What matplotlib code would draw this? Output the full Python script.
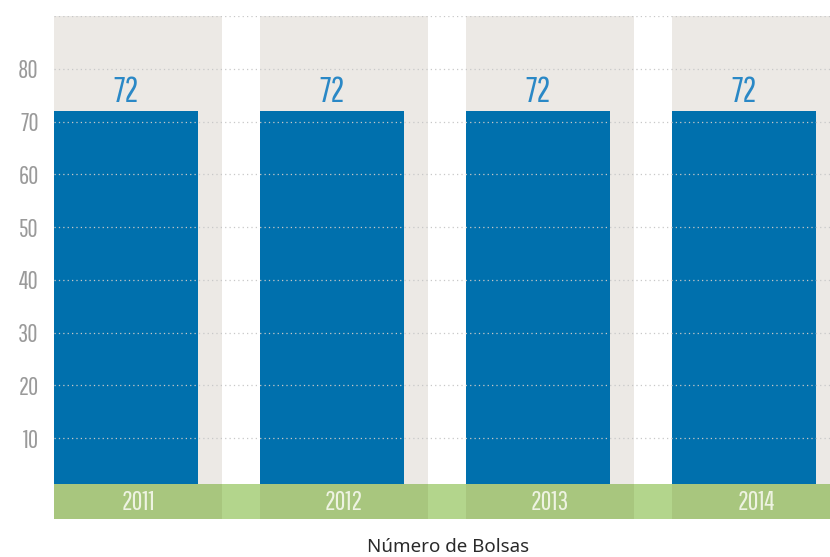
import matplotlib
matplotlib.use("Agg")
import matplotlib.pyplot as plt

# ---------------- DATI ----------------
anni = ["2011", "2012", "2013", "2014"]
bolsas = [72, 72, 72, 72]
yticks = [10, 20, 30, 40, 50, 60, 70, 80]
titolo = "Número de Bolsas"

cond = ["Pathway Gothic One", "DejaVu Sans"]

blu = "#0070ad"
grigio = "#ece9e5"
verde = "#a8c67e"
verde_chiaro = "#b3d58c"

fig = plt.figure(figsize=(8.3, 5.57), dpi=100)
ax = fig.add_axes([54 / 830, 38 / 557, 776 / 830, 503 / 557])

y_min, y_max = -5.3, 90
bar_w = 0.70
pan_w = 0.816
x = list(range(len(anni)))

# pannelli grigi e barre
for i in x:
    ax.axvspan(i - bar_w / 2, i - bar_w / 2 + pan_w, color=grigio, zorder=0, lw=0)
ax.bar(x, bolsas, width=bar_w, color=blu, zorder=2)

# griglia tratteggiata
for v in yticks + [90]:
    ax.axhline(v, color="#c8c8c8", lw=0.9, ls=(0, (1, 2.5)), zorder=3)

# fascia verde in basso
ax.axhspan(y_min, 1.3, color=verde_chiaro, zorder=4, lw=0)
for i in x:
    sx = i - bar_w / 2
    ax.fill_between([sx, sx + pan_w], y_min, 1.3, color=verde, zorder=5, lw=0)
    ax.text(sx + pan_w / 2, (y_min + 1.3) / 2 - 0.2, anni[i], ha="center", va="center",
            fontsize=19, color="#eef3e2", family=cond, zorder=6)

# etichette valori
for i, v in zip(x, bolsas):
    ax.text(i, v + 0.5, str(v), ha="center", va="bottom", fontsize=25,
            color="#2a88c6", family=cond, zorder=6)

ax.set_xlim(-bar_w / 2, 3.417)
ax.set_ylim(y_min, y_max)
ax.set_yticks(yticks)
ax.set_yticklabels([str(t) for t in yticks], family=cond, fontsize=18, color="#9a9a9a")
ax.set_xticks([])
ax.tick_params(axis="y", length=0, pad=11)
for s in ax.spines.values():
    s.set_visible(False)

fig.text(448 / 830, 1 - 547 / 557, titolo, ha="center", va="center",
         fontsize=13.5, color="#2a2a2a", family=["Noto Sans", "DejaVu Sans"])

fig.savefig("out.png", dpi=100)
